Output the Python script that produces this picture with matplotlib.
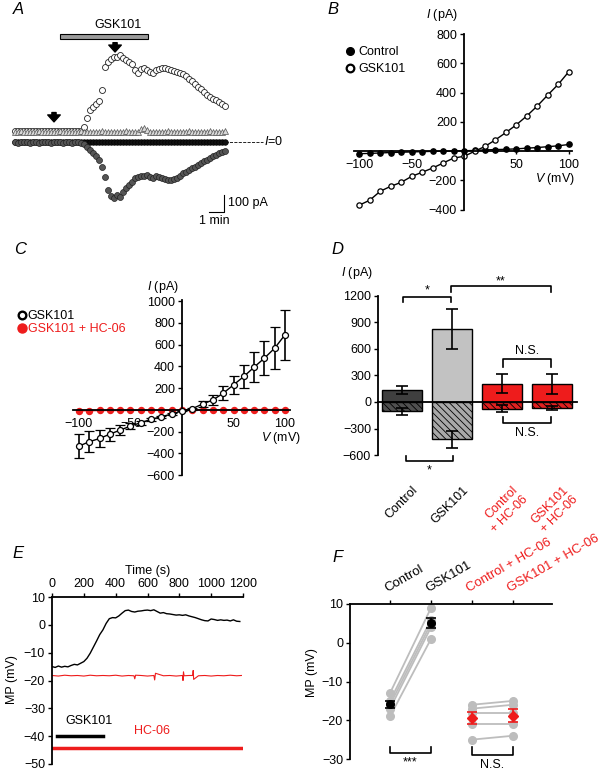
import numpy as np
import matplotlib
matplotlib.use('Agg')
import matplotlib.pyplot as plt
from matplotlib.patches import Rectangle
from matplotlib.lines import Line2D

plt.rcParams['font.family'] = ['Liberation Sans', 'DejaVu Sans']
plt.rcParams['font.size'] = 9
plt.rcParams['mathtext.fontset'] = 'custom'
plt.rcParams['mathtext.it'] = 'Liberation Sans:italic'
plt.rcParams['mathtext.rm'] = 'Liberation Sans'
plt.rcParams['hatch.linewidth'] = 0.6
plt.rcParams['axes.linewidth'] = 1.3

RED = '#ee1c1c'
FS = 9

# ---- panel A: time course (min, pA), sampled every 0.2 min
a_step = 0.2
a_gsk = [64, 66, 63, 65, 67, 64, 62, 65, 66, 64, 63, 65, 67, 65, 64, 66, 63, 65, 64, 66, 65, 63, 66,
         88, 141, 188, 206, 224, 241, 306, 441, 470, 488, 500, 500, 512, 494, 482, 470, 459,
         424, 406, 429, 435, 424, 412, 406, 424, 429, 435, 435, 429, 424, 418, 412, 406, 400, 388, 371, 359,
         341, 324, 312, 294, 276, 265, 253, 247, 235, 224, 212]
a_inward = [-2, -4, -3, -1, -3, -5, -2, -3, -4, -2, -3, -1, -4, -3, -2, -3, -5, -2, -3, -4, -2, -3, -6,
            -12, -29, -47, -65, -82, -106, -147, -206, -282, -318, -329, -312, -324, -294, -271, -253, -235,
            -212, -206, -200, -200, -194, -206, -212, -200, -206, -212, -218, -224, -224, -218, -212, -200,
            -182, -176, -165, -153, -147, -135, -124, -112, -106, -94, -82, -76, -65, -59, -53]
a_mid = [58, 60, 62, 57, 59, 61, 60, 58, 62, 59, 57, 60, 61, 59, 58, 62, 60, 57, 59, 61,
         58, 60, 62, 59, 57, 60, 61, 58, 60, 62, 59, 57, 60, 61, 58, 60, 59, 62, 57, 60,
         61, 58, 75, 82, 70, 60, 58, 61, 59, 57, 60, 62, 58, 59, 61, 60, 57, 59, 62, 60,
         58, 61, 59, 57, 60, 62, 58, 60, 61, 59, 63]
a_zero = [0, -1, 1, 0, -2, 1, 0, -1, 0, 1, -1, 0, 2, 0, -1, 1, 0, -2, 0, 1,
          -1, 0, 1, 0, -1, 2, 0, -1, 1, 0, -1, 0, 1, -2, 0, 1, 0, -1, 1, 0,
          -1, 0, 2, 0, -1, 1, 0, -1, 0, 1, -1, 0, 1, 0, -2, 1, 0, -1, 0, 1,
          -1, 0, 1, 0, -1, 2, 0, -1, 1, 0, -1]
a_drug = [3.0, 8.87]          # GSK101 application (min)
a_arrows = [2.6, 6.67]        # arrow times (min)

# ---- panel B: I-V of one cell
b_v = [-100, -90, -80, -70, -60, -50, -40, -30, -20, -10, 0, 10, 20, 30, 40, 50, 60, 70, 80, 90, 100]
b_control = [-18, -16, -13, -10, -8, -6, -4, -2, -1, 0, 2, 4, 8, 10, 12, 15, 20, 24, 30, 36, 45]
b_gsk = [-370, -336, -275, -241, -214, -173, -145, -116, -82, -48, -36, -2, 32, 77, 127, 180, 241, 309,
         384, 457, 543]

# ---- panel C: mean I-V
c_v = b_v
c_gsk = [-332, -292, -262, -222, -185, -148, -117, -86, -62, -37, -9, 12, 55, 92, 154, 231, 308, 394,
         477, 569, 692]
c_gsk_err = [110, 97, 77, 60, 45, 30, 20, 12, 8, 5, 5, 10, 25, 45, 63, 85, 110, 138, 160, 192, 231]
c_hc = [-6, -5, -4, -3, -4, -3, -2, -3, -2, -1, 0, 1, 0, 1, 2, 1, 2, 2, 3, 2, 3]

# ---- panel D: bar chart
d_labels = ['Control', 'GSK101', 'Control\n+ HC-06', 'GSK101\n+ HC-06']
d_label_colors = ['black', 'black', RED, RED]
d_out = [139, 825, 206, 206]
d_out_err = [45, 225, 109, 112]
d_in = [-105, -424, -75, -68]
d_in_err = [40, 100, 37, 25]

# ---- panel E: membrane potential trace
e_time = list(range(0, 1200, 20))
e_gsk = [-15.0, -15.3, -14.8, -15.2, -14.9, -15.1, -14.6, -14.2, -14.4, -13.8, -13.2, -12.0, -10.2, -8.0,
         -5.8, -3.5, -1.8, 0.5, 2.2, 2.6, 2.5, 3.2, 4.2, 5.1, 5.3, 4.8, 4.6, 4.9, 5.0, 5.2, 5.3, 5.1, 5.4,
         4.8, 4.2, 4.4, 4.0, 3.9, 3.7, 3.5, 3.6, 3.4, 3.6, 3.2, 2.9, 2.6, 2.2, 1.8, 1.5, 1.4, 2.1, 1.9,
         1.6, 1.8, 1.6, 1.7, 1.4, 1.8, 1.3, 1.2]
e_hc_time = [0, 40, 80, 120, 160, 200, 240, 280, 320, 360, 400, 440, 480, 515, 520, 525, 560, 600, 640,
             645, 650, 700, 740, 780, 820, 823, 826, 830, 860, 884, 887, 890, 920, 960, 1000, 1040, 1080,
             1120, 1160, 1190]
e_hc = [-18.2, -18.4, -18.1, -18.3, -18.2, -18.4, -18.1, -18.3, -18.2, -18.3, -18.1, -18.4, -18.2,
        -18.3, -19.4, -18.1, -18.2, -18.4, -18.2, -19.8, -17.4, -18.3, -18.2, -18.4, -18.2, -20.0, -16.9,
        -18.3, -18.2, -18.2, -16.4, -19.6, -18.3, -18.2, -18.4, -18.2, -18.3, -18.1, -18.3, -18.2]
e_gsk_period = [30, 320]
e_hc_period = [0, 1200]

# ---- panel F: paired MP values
f_control = [-13, -15, -16, -17, -19]
f_gsk = [9, 6, 5, 4, 1]
f_control_hc = [-16, -17, -18, -21, -25]
f_gsk_hc = [-15, -16, -18, -21, -24]
f_means = [-15.9, 5.1, -19.4, -18.8]
f_errs = [0.9, 1.2, 1.6, 1.6]
f_labels = ['Control', 'GSK101', 'Control + HC-06', 'GSK101 + HC-06']

W, H = 602, 774
fig = plt.figure(figsize=(W / 100, H / 100), dpi=100)


def px_axes(l, t, r, b):
    return fig.add_axes([l / W, 1 - b / H, (r - l) / W, (b - t) / H])


def fig_text(x, y, s, **kw):
    fig.text(x / W, 1 - y / H, s, **kw)


def bracket(ax, x1, x2, y, leg, label, ty, fs=FS):
    ax.plot([x1, x1, x2, x2], [y + leg, y, y, y + leg], color='black', lw=1.2, clip_on=False)
    ax.text((x1 + x2) / 2, ty, label, ha='center', va='center', fontsize=fs)


# panel letters
for letter, (x, y) in zip('ABCDEF', [(18, 10), (333, 10), (20, 250), (337, 250), (18, 554), (338, 557)]):
    fig_text(x, y, letter, fontsize=12, style='italic', ha='center', va='center')

# ================= A
ax = px_axes(0, 0, 300, 230)
ax.set_xlim(-1, 19)
ax.set_ylim(-518, 835)
ax.axis('off')
t = np.arange(len(a_gsk)) * a_step
ax.plot(t, a_gsk, 'o', ms=4.3, mfc='white', mec='#222222', mew=0.6, zorder=2)
ax.plot(t, a_mid, '^', ms=3.8, mfc='#d8d8d8', mec='#555555', mew=0.5, zorder=3)
ax.plot(t, a_zero, 'o', ms=4.0, mfc='#111111', mec='black', mew=0.5, zorder=3)
ax.plot(t, a_inward, 'o', ms=4.3, mfc='#555555', mec='#222222', mew=0.5, zorder=4)
ax.add_patch(Rectangle((a_drug[0], 606), a_drug[1] - a_drug[0], 29, fc='#9a9a9a', ec='black', lw=0.8))
ax.text(sum(a_drug) / 2 + 0.9, 685, 'GSK101', ha='center', va='center', fontsize=FS)
for at, tip in zip(a_arrows, [118, 529]):
    ax.annotate('', xy=(at, tip), xytext=(at, tip + 55),
                arrowprops=dict(facecolor='black', edgecolor='black', width=3, headwidth=9, headlength=5,
                                shrink=0))
ax.plot([14, 16.5], [0, 0], '--', color='black', lw=0.6)
ax.text(16.6, 0, r'$I$=0', va='center', ha='left', fontsize=FS)
ax.plot([12.93, 13.93, 13.93], [-412, -412, -312], color='black', lw=0.8)
ax.text(14.2, -362, '100 pA', va='center', ha='left', fontsize=FS)
ax.text(13.3, -465, '1 min', va='center', ha='center', fontsize=FS)

# ================= B
ax = px_axes(354, 33.3, 572, 210.3)
ax.set_xlim(-105, 103)
ax.set_ylim(-405, 805)
for s in ['top', 'right']:
    ax.spines[s].set_visible(False)
ax.spines['left'].set_position(('data', 0))
ax.spines['bottom'].set_position(('data', 0))
ax.spines['left'].set_bounds(-400, 800)
ax.set_xticks([-100, -50, 50, 100])
ax.set_yticks([-400, -200, 200, 400, 600, 800])
ax.tick_params(axis='x', length=2, width=1, pad=4)
ax.tick_params(axis='y', length=3, width=1, pad=2)
ax.plot(b_v, b_control, 'o-', color='black', ms=3.8, lw=1, mfc='black', clip_on=False)
ax.plot(b_v, b_gsk, 'o-', color='black', ms=3.8, lw=1, mfc='white', mew=0.9, clip_on=False)
ax.legend(handles=[Line2D([], [], ls='none', marker='o', ms=5.5, mfc='black', mec='black'),
                   Line2D([], [], ls='none', marker='o', ms=5.5, mfc='white', mec='black', mew=1.6)],
          labels=['Control', 'GSK101'], loc='upper left', bbox_to_anchor=(346 / W, 1 - 46 / H),
          bbox_transform=fig.transFigure, frameon=False, handlelength=0.6, handletextpad=0.4,
          borderpad=0, borderaxespad=0, labelspacing=0.4, fontsize=FS)
fig_text(442, 15, r'$I$ (pA)', ha='center', va='center', fontsize=FS)
fig_text(555, 179, r'$V$ (mV)', ha='center', va='center', fontsize=FS)

# ================= C
ax = px_axes(73, 300, 290, 476)
ax.set_xlim(-105.8, 104.8)
ax.set_ylim(-607, 1011)
for s in ['top', 'right']:
    ax.spines[s].set_visible(False)
ax.spines['left'].set_position(('data', 0))
ax.spines['bottom'].set_position(('data', 0))
ax.spines['left'].set_bounds(-600, 1011)
ax.set_xticks([-100, -50, 50, 100])
ax.set_yticks([-600, -400, -200, 200, 400, 600, 800, 1000])
ax.tick_params(axis='x', length=2, width=1, pad=4)
ax.tick_params(axis='y', length=3, width=1, pad=2)
ax.plot(c_v, c_hc, 'o-', color=RED, ms=4.3, lw=1.2, zorder=2, clip_on=False)
ax.errorbar(c_v, c_gsk, yerr=c_gsk_err, fmt='o-', color='black', ms=4.3, mfc='white', mew=0.9, lw=1,
            elinewidth=1.2, capsize=3.5, capthick=1.2, zorder=3, clip_on=False)
ax.legend(handles=[Line2D([], [], ls='none', marker='o', ms=5.5, mfc='white', mec='black', mew=1.7),
                   Line2D([], [], ls='none', marker='o', ms=6.5, mfc=RED, mec=RED)],
          labels=['GSK101', 'GSK101 + HC-06'], labelcolor=['black', RED], loc='upper left',
          bbox_to_anchor=(19 / W, 1 - 310 / H), bbox_transform=fig.transFigure, frameon=False,
          handlelength=0.5, handletextpad=0.2, borderpad=0, borderaxespad=0, labelspacing=0.1, fontsize=FS)
fig_text(163, 287, r'$I$ (pA)', ha='center', va='center', fontsize=FS)
fig_text(281, 438, r'$V$ (mV)', ha='center', va='center', fontsize=FS)

# ================= D
ax = px_axes(378, 278.3, 577, 477.1)
ax.set_xlim(-0.48, 3.5)
ax.set_ylim(-850, 1400)
for s in ['top', 'right']:
    ax.spines[s].set_visible(False)
ax.spines['bottom'].set_position(('data', 0))
ax.spines['left'].set_bounds(-600, 1200)
ax.set_xticks([])
ax.set_yticks([-600, -300, 0, 300, 600, 900, 1200])
ax.tick_params(axis='y', length=3, width=1, pad=2)
x = np.arange(len(d_out))
ax.bar(x, d_out, width=0.8, color=['#3f3f3f', '#c2c2c2', RED, RED], edgecolor='black', lw=1, zorder=2)
ax.bar(x, d_in, width=0.8, color=['#505050', '#a8a8a8', '#e02020', '#e02020'], edgecolor='black', lw=1,
       hatch='\\\\\\\\\\', zorder=2)
ax.errorbar(x, d_out, yerr=d_out_err, fmt='none', ecolor='black', elinewidth=1.2, capsize=4, capthick=1.2,
            zorder=3)
ax.errorbar(x, d_in, yerr=d_in_err, fmt='none', ecolor='black', elinewidth=1.2, capsize=4, capthick=1.2,
            zorder=3)
bracket(ax, 0.02, 0.98, 1189, -57, '*', 1257)
bracket(ax, 0.98, 2.98, 1313, -68, '**', 1370)
bracket(ax, 2.02, 2.98, 487, -91, 'N.S.', 572)
bracket(ax, 2.02, 2.98, -238, 68, 'N.S.', -355)
bracket(ax, 0.08, 1.02, -668, 57, '*', -770)
for i, (lab, col) in enumerate(zip(d_labels, d_label_colors)):
    ax.text(i + 0.2, -928, lab, rotation=45, rotation_mode='anchor', ha='right', va='top', color=col,
            fontsize=FS, multialignment='right')
fig_text(357, 273, r'$I$ (pA)', ha='center', va='center', fontsize=FS)

# ================= E
ax = px_axes(52, 597, 243, 764)
ax.set_xlim(0, 1200)
ax.set_ylim(-50, 10)
for s in ['bottom', 'right']:
    ax.spines[s].set_visible(False)
ax.xaxis.tick_top()
ax.xaxis.set_label_position('top')
ax.set_xticks(range(0, 1201, 200))
ax.set_yticks(range(-50, 11, 10))
ax.tick_params(length=3, width=1, pad=2)
ax.plot(e_time, e_gsk, color='black', lw=1)
ax.plot(e_hc_time, e_hc, color=RED, lw=0.8)
ax.plot(e_gsk_period, [-40, -40], color='black', lw=2.5)
ax.plot(e_hc_period, [-44.2, -44.2], color=RED, lw=2.5)
ax.text(230, -34.6, 'GSK101', ha='center', va='center', fontsize=FS)
ax.text(626, -38.2, 'HC-06', ha='center', va='center', fontsize=FS, color=RED)
ax.set_xlabel('Time (s)', labelpad=3, fontsize=FS)
fig_text(12, 680, 'MP (mV)', rotation=90, ha='center', va='center', fontsize=FS)

# ================= F
ax = px_axes(350, 604, 552, 759)
ax.set_xlim(0.024, 4.95)
ax.set_ylim(-30, 10)
for s in ['bottom', 'right']:
    ax.spines[s].set_visible(False)
ax.xaxis.tick_top()
ax.set_xticks([1, 2, 3, 4])
ax.set_xticklabels([])
ax.set_yticks([-30, -20, -10, 0, 10])
ax.tick_params(length=3, width=1, pad=2)
gray = '#bdbdbd'
for a, b in zip(f_control, f_gsk):
    ax.plot([1, 2], [a, b], 'o-', color=gray, ms=5.5, lw=1.3, zorder=2, clip_on=False)
for a, b in zip(f_control_hc, f_gsk_hc):
    ax.plot([3, 4], [a, b], 'o-', color=gray, ms=5.5, lw=1.3, zorder=2, clip_on=False)
ax.errorbar([1, 2], f_means[:2], yerr=f_errs[:2], fmt='o', color='black', ms=5.5, elinewidth=1.2, capsize=3.5,
            capthick=1.2, zorder=3)
ax.errorbar([3, 4], f_means[2:], yerr=f_errs[2:], fmt='D', color=RED, ms=5, elinewidth=1.2, capsize=3.5,
            capthick=1.2, zorder=3)
for i, (lab, col) in enumerate(zip(f_labels, d_label_colors)):
    ax.text(i + 0.93, 13.0, lab, rotation=30, rotation_mode='anchor', ha='left', va='baseline', color=col,
            fontsize=9.5)
bracket(ax, 1, 2, -28.5, 1.6, '***', -31.0)
bracket(ax, 3, 4, -29.0, 2.0, 'N.S.', -31.6)
fig_text(312, 673, 'MP (mV)', rotation=90, ha='center', va='center', fontsize=FS)

fig.savefig('out.png', dpi=100)
